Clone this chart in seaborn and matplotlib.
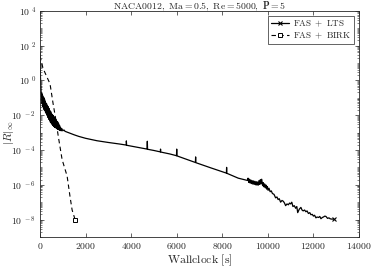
import numpy as np
import pandas as pd
import seaborn as sns
import matplotlib
matplotlib.use("Agg")
import matplotlib.pyplot as plt
from matplotlib.ticker import FuncFormatter, FixedLocator, LogLocator, NullFormatter

# ---- data ----
lts_time = [0, 10, 20, 35, 50, 65, 80, 95, 110, 125, 140, 155, 170, 185, 200, 215,
            230, 245, 260, 275, 290, 305, 320, 335, 350, 365, 380, 395, 410, 425,
            440, 455, 470, 485, 500, 515, 530, 545, 560, 575, 590, 605, 620, 640,
            660, 680, 700, 720, 740, 760, 780, 800, 820, 840, 860, 880, 900, 930,
            960, 1000, 1050, 1100, 1200,
            1300, 1500, 1700, 2000, 2500, 3000, 3500,
            3790, 3790, 3800, 4200, 4700, 4710, 4720, 5000, 5280, 5290, 5300,
            5700, 5990, 6000, 6010, 6500, 6820, 6830, 6840, 7500, 8180, 8190, 8200,
            8700, 9100, 9130, 9160, 9190, 9220, 9250, 9280, 9310, 9340, 9370, 9400,
            9430, 9460, 9490, 9520, 9550, 9580, 9610, 9640, 9670, 9700, 9730, 9770,
            9800, 9830, 9860, 9890, 9920, 9950, 9980, 10010, 10050, 10100, 10150, 10200,
            10270, 10340, 10400, 10450, 10500, 10560, 10620, 10680, 10730, 10780,
            10840, 10900, 10950, 11000, 11050, 11100, 11160, 11220, 11270, 11310,
            11380, 11450, 11500, 11550, 11610, 11670, 11720, 11780, 11840, 11890,
            11950, 12000, 12050, 12110, 12160, 12220, 12280, 12330, 12390, 12440,
            12500, 12550, 12620, 12680, 12730, 12780, 12890]
lts_log10_res = [1.6, 0.8, 0.2, -0.3, -0.7, -0.95, -0.75, -1.35, -0.85, -1.5, -0.95,
                 -1.6, -1.0, -1.7, -1.1, -1.75, -1.2, -1.85, -1.3, -1.9, -1.35,
                 -2.0, -1.45, -2.1, -1.5, -2.15, -1.6, -2.25, -1.65, -2.3, -1.75,
                 -2.4, -1.8, -2.45, -1.9, -2.5, -1.95, -2.55, -2.0, -2.6, -2.05,
                 -2.65, -2.1, -2.7, -2.15, -2.72, -2.25, -2.75, -2.35, -2.8, -2.4,
                 -2.82, -2.5, -2.85, -2.6, -2.88, -2.7, -2.9, -2.78, -2.9, -2.85,
                 -2.93, -2.98,
                 -3.03, -3.13, -3.22, -3.33, -3.47, -3.57, -3.66,
                 -3.72, -3.48, -3.73, -3.83, -3.95, -3.5, -3.96, -4.03, -4.11, -3.95,
                 -4.12, -4.23, -4.33, -3.95, -4.34, -4.57, -4.72, -4.4, -4.73, -5.03,
                 -5.33, -5.0, -5.34, -5.62, -5.75, -5.62, -5.86, -5.68, -5.9, -5.72,
                 -5.93, -5.76, -5.96, -5.78, -5.98, -5.8, -6.0, -5.82, -6.02, -5.84,
                 -6.02, -5.76, -5.98, -5.7, -5.95, -5.68, -6.05, -5.88, -6.12, -5.95,
                 -6.18, -6.02, -6.25, -6.1, -6.32, -6.2, -6.4, -6.35, -6.5, -6.55,
                 -6.75, -6.7, -6.85,
                 -6.8, -7.0, -6.9, -6.95, -7.05, -7.2, -7.1, -7.15, -7.05, -7.1,
                 -7.0, -7.25, -7.2, -7.35, -7.25, -7.6, -7.4, -7.3, -7.45, -7.5,
                 -7.45, -7.55, -7.5, -7.65, -7.6, -7.72, -7.7, -7.8, -7.75, -7.9,
                 -7.85, -7.88, -7.82, -7.95, -7.88, -7.85, -7.8, -7.82, -7.93, -7.9,
                 -7.95, -7.97, -7.97]

birk_time = [0, 130, 300, 440, 570, 700, 800, 970, 1190, 1320, 1410, 1540]
birk_log10_res = [1.4, 0.7, 0.2, -0.2, -1.3, -2.3, -3.2, -4.55, -5.5, -6.7, -7.45, -8.0]

series_labels = [r'$\mathrm{FAS\ +\ LTS}$', r'$\mathrm{FAS\ +\ BIRK}$']
x_ticks = [0, 2000, 4000, 6000, 8000, 10000, 12000, 14000]
y_tick_exponents = [4, 2, 0, -2, -4, -6, -8]

df_lts = pd.DataFrame({"t": lts_time, "r": np.power(10.0, lts_log10_res)})
df_birk = pd.DataFrame({"t": birk_time, "r": np.power(10.0, birk_log10_res)})

# ---- style ----
sns.set_theme(style="ticks")
plt.rcParams['font.family'] = ['DejaVu Serif']
plt.rcParams['mathtext.fontset'] = 'cm'
plt.rcParams['xtick.direction'] = 'in'
plt.rcParams['ytick.direction'] = 'in'

fig = plt.figure(figsize=(3.74, 2.67), dpi=100)
ax = fig.add_axes([40/374, 30/267, 319/374, 226.3/267])

sns.lineplot(data=df_lts, x="t", y="r", ax=ax, sort=False, estimator=None,
             color="black", lw=0.9, marker="x", markevery=[len(lts_time) - 1],
             markersize=3.5, markeredgewidth=0.8, markeredgecolor="black",
             legend=False)
sns.lineplot(data=df_birk, x="t", y="r", ax=ax, sort=False, estimator=None,
             color="black", lw=0.8, linestyle=(0, (4, 3)), marker="s",
             markevery=[len(birk_time) - 1], markersize=3, markerfacecolor="white",
             markeredgecolor="black", markeredgewidth=0.7, legend=False)

ax.set_yscale("log")
ax.set_xlim(0, 14000)
ax.set_ylim(1e-9, 1e4)

ax.xaxis.set_major_locator(FixedLocator(x_ticks))
ax.xaxis.set_major_formatter(FuncFormatter(lambda v, p: r'$\mathrm{%d}$' % int(round(v))))
ax.yaxis.set_major_locator(FixedLocator([10.0**e for e in y_tick_exponents]))
ax.yaxis.set_major_formatter(FuncFormatter(lambda v, p: r'$\mathrm{10}^{\ %d}$' % int(round(np.log10(v)))))
ax.yaxis.set_minor_locator(LogLocator(base=10, subs=np.arange(1, 10), numticks=100))
ax.yaxis.set_minor_formatter(NullFormatter())

ax.tick_params(axis="both", which="major", labelsize=7, length=3, width=0.5,
               top=True, right=True, pad=3, colors="#262626")
ax.tick_params(axis="y", which="minor", length=1.6, width=0.4, right=True, left=True)
for s in ax.spines.values():
    s.set_linewidth(0.6)
    s.set_color("#262626")

ax.set_xlabel(r'$\mathrm{Wallclock\ [s]}$', fontsize=8.5, labelpad=1)
ax.set_ylabel(r'$|R|_\infty$', fontsize=8)
ax.yaxis.set_label_coords(-0.075, 0.46)
ax.set_title(r'$\mathrm{NACA0012,\ Ma{=}0.5,\ Re{=}5000,\ }\mathbf{P}{=}\mathbf{5}$',
             fontsize=7, pad=1)

handles = ax.get_lines()[:2]
leg = ax.legend(handles, series_labels, loc="upper right", fontsize=6.5, frameon=True,
                fancybox=False, handlelength=2.0, handletextpad=0.4, borderpad=0.3,
                labelspacing=0.15, borderaxespad=0.6, framealpha=1)
leg.get_frame().set_edgecolor("#262626")
leg.get_frame().set_linewidth(0.5)

fig.savefig("out.png", dpi=100)
